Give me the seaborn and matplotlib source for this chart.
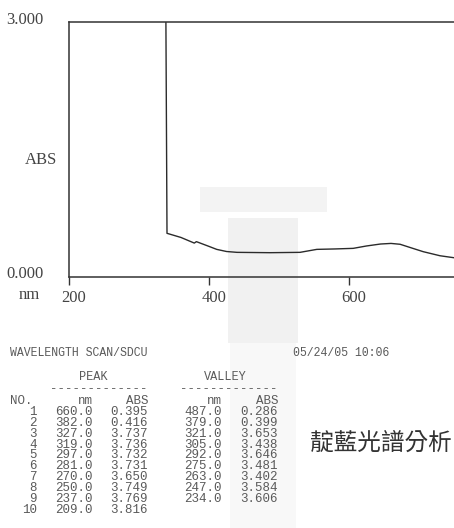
import numpy as np
import pandas as pd
import matplotlib
matplotlib.use("Agg")
import matplotlib.pyplot as plt
import matplotlib.transforms as mtransforms
from matplotlib.patches import Rectangle
import seaborn as sns

# Absorbance scan (nm, ABS); values above 3.000 run off the top of the scale
wavelength = [209, 234, 237, 247, 250, 263, 270, 275, 281, 292, 297, 305, 319, 321, 327, 338,
              340, 360, 379, 382, 400, 411, 425, 440, 487, 530, 554, 580, 606, 625, 645,
              660, 673, 690, 706, 730, 760]
absorbance = [3.816, 3.606, 3.769, 3.584, 3.749, 3.402, 3.650, 3.481, 3.731, 3.646, 3.732, 3.438,
              3.736, 3.653, 3.737, 3.70,
              0.514, 0.465, 0.399, 0.416, 0.36, 0.325, 0.30, 0.29, 0.286, 0.29, 0.325, 0.33,
              0.337, 0.365, 0.388, 0.395, 0.385, 0.34, 0.298, 0.25, 0.215]

x_ticks = [200, 400, 600]
y_ticks = [0.0, 3.0]
y_tick_labels = ["0.000", "3.000"]

# Peak / valley listing printed under the scan
peak_no = [1, 2, 3, 4, 5, 6, 7, 8, 9, 10]
peak_nm = [660.0, 382.0, 327.0, 319.0, 297.0, 281.0, 270.0, 250.0, 237.0, 209.0]
peak_abs = [0.395, 0.416, 3.737, 3.736, 3.732, 3.731, 3.650, 3.749, 3.769, 3.816]
valley_nm = [487.0, 379.0, 321.0, 305.0, 292.0, 275.0, 263.0, 247.0, 234.0]
valley_abs = [0.286, 0.399, 3.653, 3.438, 3.646, 3.481, 3.402, 3.584, 3.606]

title_line = "WAVELENGTH SCAN/SDCU"
stamp = "05/24/05 10:06"
caption = "靛藍光譜分析"

W, H = 454, 528
sns.set_style("white")
plt.rcParams["font.family"] = ["Liberation Serif", "DejaVu Serif"]

fig = plt.figure(figsize=(W / 100, H / 100), dpi=100)
fig.patch.set_facecolor("white")


def fx(x):
    return x / W


def fy(y):
    return 1 - y / H


# faint paper shading behind the print
fig.add_artist(Rectangle((fx(200), fy(212)), fx(127), 25 / H, transform=fig.transFigure,
                         facecolor="#f3f3f3", edgecolor="none", zorder=0))
fig.add_artist(Rectangle((fx(228), fy(343)), fx(70), 125 / H, transform=fig.transFigure,
                         facecolor="#f1f1f1", edgecolor="none", zorder=0))
fig.add_artist(Rectangle((fx(230), fy(528)), fx(66), 185 / H, transform=fig.transFigure,
                         facecolor="#f8f8f8", edgecolor="none", zorder=0))

# plot area: 0.7 px per nm, 85 px per ABS unit
ax = fig.add_axes([fx(69), fy(277), 490 / W, 255 / H])
ax.set_facecolor("none")
ax.set_zorder(2)

df = pd.DataFrame({"nm": wavelength, "ABS": absorbance})
sns.lineplot(data=df, x="nm", y="ABS", ax=ax, color="#2b2b2b", linewidth=1.0,
             estimator=None, sort=False)

ax.set_xlim(200, 900)
ax.set_ylim(0, 3.0)
ax.set_xticks(x_ticks)
ax.set_xticklabels([str(t) for t in x_ticks])
ax.set_yticks(y_ticks)
ax.set_yticklabels(y_tick_labels)

for side in ["left", "bottom", "top"]:
    ax.spines[side].set_color("#333333")
    ax.spines[side].set_linewidth(1.1)
ax.spines["right"].set_visible(False)

lab_size = 12
ax.tick_params(axis="x", direction="out", length=6, width=1.0, color="#333333",
               labelsize=lab_size, labelcolor="#444444", pad=3, bottom=True)
ax.tick_params(axis="y", length=0, labelsize=lab_size, labelcolor="#444444", pad=18.5)

x_shift = mtransforms.ScaledTranslation(5 / 100, 0, fig.dpi_scale_trans)
for lab in ax.get_xticklabels():
    lab.set_transform(lab.get_transform() + x_shift)
y_shift = mtransforms.ScaledTranslation(0, 4.5 / 100, fig.dpi_scale_trans)
for lab in ax.get_yticklabels():
    lab.set_transform(lab.get_transform() + y_shift)

ax.set_xlabel("nm", fontsize=lab_size, color="#444444", va="center")
ax.xaxis.set_label_coords((29 - 69) / 490, (277 - 295) / 255)
ax.set_ylabel("ABS", fontsize=lab_size, color="#444444", rotation=0, ha="center", va="center")
ax.yaxis.set_label_coords((41 - 69) / 490, (277 - 160) / 255)

# printed listing
mono = ["Liberation Mono", "DejaVu Sans Mono"]
tc = "#5a5a5a"
fig.text(fx(10), fy(353), title_line, family=mono, fontsize=8.3, color=tc, va="center", ha="left")
fig.text(fx(293), fy(353), stamp, family=mono, fontsize=8.3, color=tc, va="center", ha="left")

fig.text(fx(93), fy(377), "PEAK", family=mono, fontsize=8.6, color=tc, va="center", ha="center")
fig.text(fx(225), fy(377), "VALLEY", family=mono, fontsize=8.6, color=tc, va="center", ha="center")
fig.text(fx(148), fy(389), "-" * 13, family=mono, fontsize=9, color=tc, va="center", ha="right")
fig.text(fx(278), fy(389), "-" * 13, family=mono, fontsize=9, color=tc, va="center", ha="right")

row_y0, row_dy = 401, 10.9
cols_right = [93, 148, 222, 278]
fig.text(fx(10), fy(row_y0), "NO.", family=mono, fontsize=9, color=tc, va="center", ha="left")
for xr, head in zip(cols_right, ["nm", "ABS", "nm", "ABS"]):
    fig.text(fx(xr), fy(row_y0), head, family=mono, fontsize=9, color=tc, va="center", ha="right")

for i, n in enumerate(peak_no):
    y = row_y0 + row_dy * (i + 1)
    fig.text(fx(37), fy(y), str(n), family=mono, fontsize=9, color=tc, va="center", ha="right")
    fig.text(fx(cols_right[0]), fy(y), f"{peak_nm[i]:.1f}", family=mono, fontsize=9,
             color=tc, va="center", ha="right")
    fig.text(fx(cols_right[1]), fy(y), f"{peak_abs[i]:.3f}", family=mono, fontsize=9,
             color=tc, va="center", ha="right")
    if i < len(valley_nm):
        fig.text(fx(cols_right[2]), fy(y), f"{valley_nm[i]:.1f}", family=mono, fontsize=9,
                 color=tc, va="center", ha="right")
        fig.text(fx(cols_right[3]), fy(y), f"{valley_abs[i]:.3f}", family=mono, fontsize=9,
                 color=tc, va="center", ha="right")

fig.text(fx(310), fy(443), caption, family=["Noto Sans CJK TC", "DejaVu Sans"],
         fontsize=17, color="#333333", va="center", ha="left")

fig.savefig("out.png", dpi=100)
